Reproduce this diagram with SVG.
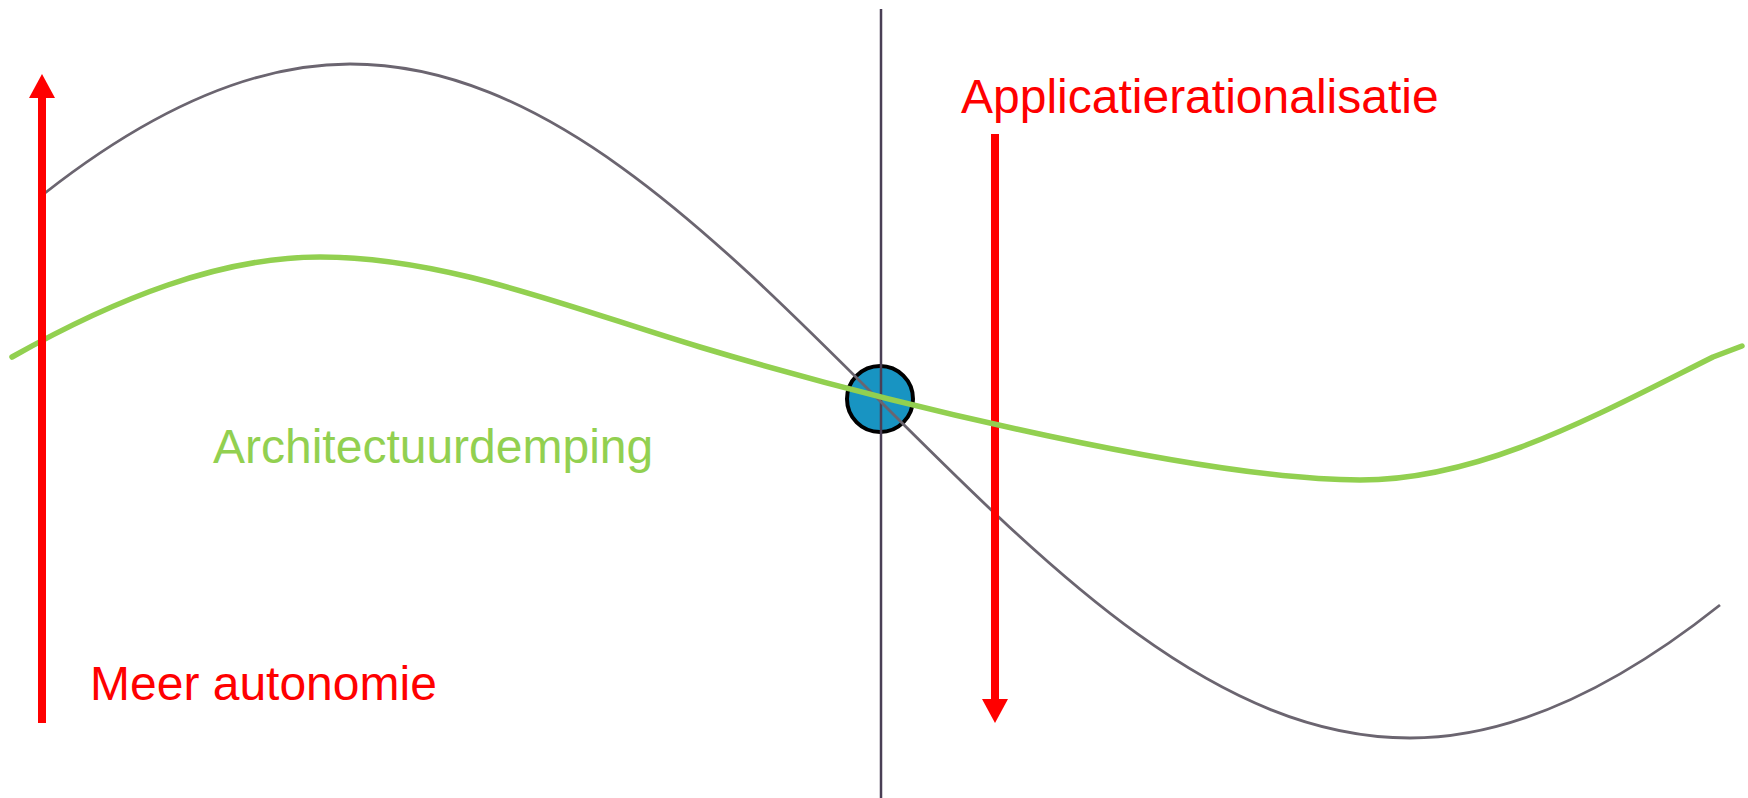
<svg xmlns="http://www.w3.org/2000/svg" width="1748" height="798" viewBox="0 0 1748 798">
  <style>
    .lbl { font-family: "Liberation Sans", Arial, sans-serif; font-size: 48px; }
    .red { fill: #ff0000; }
    .grn { fill: #92d050; }
    .arrow { stroke: #ff0000; stroke-width: 8; fill: none; }
  </style>
  <defs>
    <marker id="head" markerUnits="userSpaceOnUse" markerWidth="24" markerHeight="26" viewBox="0 0 24 26" refX="0" refY="13" orient="auto">
      <path d="M0,0 L24,13 L0,26 Z" fill="#ff0000"/>
    </marker>
  </defs>
  <rect width="1748" height="798" fill="#ffffff"/>

  <g id="center-point">
    <circle cx="880" cy="399" r="33" fill="#1894c2" stroke="#000000" stroke-width="4"/>
  </g>

  <g id="axis">
    <line x1="881" y1="9" x2="881" y2="798" stroke="#4a3f55" stroke-width="2.5"/>
  </g>

  <g id="connectors">
    <path id="wave-grey" d="M45,193 C146.7,113.2 248.3,64 350,64 C541.8,64 707.1,228.4 880,401 C1052.9,573.6 1218.2,738 1410,738 C1513,738 1617,687 1720,605" fill="none" stroke="#6b6570" stroke-width="2.8"/>
    <line id="arrow-down" class="arrow" x1="995" y1="134" x2="995" y2="699" marker-end="url(#head)"/>
    <path id="wave-green" d="M12,357 C115,299 220,257 320,257 C447,257 573,309 700,347 C900,407 1210,480 1360,480 C1480,480 1593,417 1713,357 L1742,346" fill="none" stroke="#92d050" stroke-width="5.5" stroke-linecap="round" stroke-linejoin="round"/>
    <line id="arrow-up" class="arrow" x1="42" y1="723" x2="42" y2="98" marker-end="url(#head)"/>
  </g>

  <g id="label-applicatie">
    <text class="lbl red" x="961" y="113">Applicatierationalisatie</text>
  </g>
  <g id="label-autonomie">
    <text class="lbl red" x="90" y="700">Meer autonomie</text>
  </g>
  <g id="label-architectuur">
    <text class="lbl grn" x="213" y="463">Architectuurdemping</text>
  </g>
</svg>
